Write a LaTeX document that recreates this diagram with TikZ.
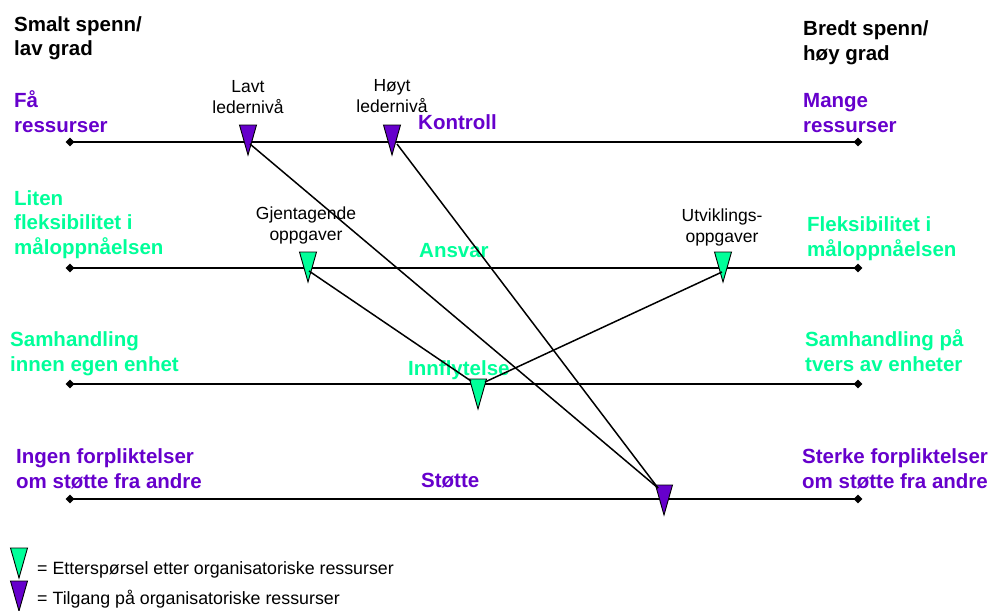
\documentclass[tikz,border=0pt]{standalone}
\usepackage{fontspec}
\setmainfont{Liberation Sans}
\usetikzlibrary{shapes.geometric}
\definecolor{vio}{RGB}{102,0,204}
\definecolor{grn}{RGB}{0,255,153}
\tikzset{
  tri/.pic={\filldraw[fill=#1, draw=black, line width=0.9pt] (-8.5,0) -- (8.5,0) -- (0,30) -- cycle;},
}
\begin{document}
\begin{tikzpicture}[x=1pt,y=-1pt,
  big/.style={font=\fontsize{20.5}{24.5}\selectfont\bfseries, inner sep=0, align=left, anchor=base west},
  small/.style={font=\fontsize{17.5}{20.5}\selectfont, inner sep=0, align=center, anchor=base},
  legtext/.style={font=\fontsize{17.8}{20.5}\selectfont, inner sep=0, anchor=base west},
  axisline/.style={line width=2.6pt},
  endmark/.style={diamond, fill=black, inner sep=0, minimum size=9pt},
  link/.style={line width=1.5pt},
]
\useasboundingbox (0,0) rectangle (992,610);

% corner headings
\node[big] (hl) at (14,56) {Smalt spenn/\\lav grad};
\node[big] (hr) at (803,60) {Bredt spenn/\\høy grad};

% axes
\foreach \n/\y in {a/142,b/268,c/384,d/499}{
  \node[endmark] (\n L) at (70,\y) {};
  \node[endmark] (\n R) at (858,\y) {};
  \draw[axisline] (\n L.center) -- (\n R.center);
}

% row 1
\node[big, text=vio] (r1l) at (14,132) {Få\\ressurser};
\node[big, text=vio] (r1r) at (803,132) {Mange\\ressurser};
\node[big, text=vio] (r1m) at (418,129) {Kontroll};
\node[small] (lavt) at (248,113) {Lavt\\ledernivå};
\node[small] (hoyt) at (392,112) {Høyt\\ledernivå};

% row 2
\node[big, text=grn] (r2l) at (14,254) {Liten\\fleksibilitet i\\måloppnåelsen};
\node[big, text=grn] (r2r) at (807,256) {Fleksibilitet i\\måloppnåelsen};
\node[big, text=grn] (r2m) at (419,257) {Ansvar};
\node[small] (gjen) at (306,240) {Gjentagende\\oppgaver};
\node[small] (utv) at (722,242) {Utviklings-\\oppgaver};

% row 3
\node[big, text=grn] (r3l) at (10,371) {Samhandling\\innen egen enhet};
\node[big, text=grn] (r3r) at (805,371) {Samhandling på\\tvers av enheter};
\node[big, text=grn] (r3m) at (408,375) {Innflytelse};

% row 4
\node[big, text=vio] (r4l) at (16,488) {Ingen forpliktelser\\om støtte fra andre};
\node[big, text=vio] (r4r) at (802,488) {Sterke forpliktelser\\om støtte fra andre};
\node[big, text=vio] (r4m) at (421,487) {Støtte};

% triangles
\coordinate (tLavt) at (248,125);
\coordinate (tHoyt) at (392,125);
\coordinate (tGjen) at (308,252);
\coordinate (tUtv) at (723,252);
\coordinate (tInnf) at (478,379);
\coordinate (tStotte) at (664,485);
\pic at (tLavt) {tri=vio};
\pic at (tHoyt) {tri=vio};
\pic at (tGjen) {tri=grn};
\pic at (tUtv) {tri=grn};
\pic at (tInnf) {tri=grn};
\pic at (tStotte) {tri=vio};

% connectors
\coordinate (lavtA) at (250,144);
\coordinate (hoytA) at (397,144);
\coordinate (stotteB) at (658,488);
\coordinate (gjenA) at (309,271);
\coordinate (utvA) at (722,272);
\coordinate (innfB) at (471,381);
\coordinate (innfC) at (485,382);
\draw[link] (lavtA) -- (stotteB);
\draw[link] (hoytA) -- (stotteB);
\draw[link] (gjenA) -- (innfB);
\draw[link] (utvA) -- (innfC);

% legend
\coordinate (lg1) at (19,548);
\coordinate (lg2) at (19,581);
\pic at (lg1) {tri=grn};
\pic at (lg2) {tri=vio};
\node[legtext] (leg1) at (37,574) {= Etterspørsel etter organisatoriske ressurser};
\node[legtext] (leg2) at (37,604) {= Tilgang på organisatoriske ressurser};
\end{tikzpicture}
\end{document}
